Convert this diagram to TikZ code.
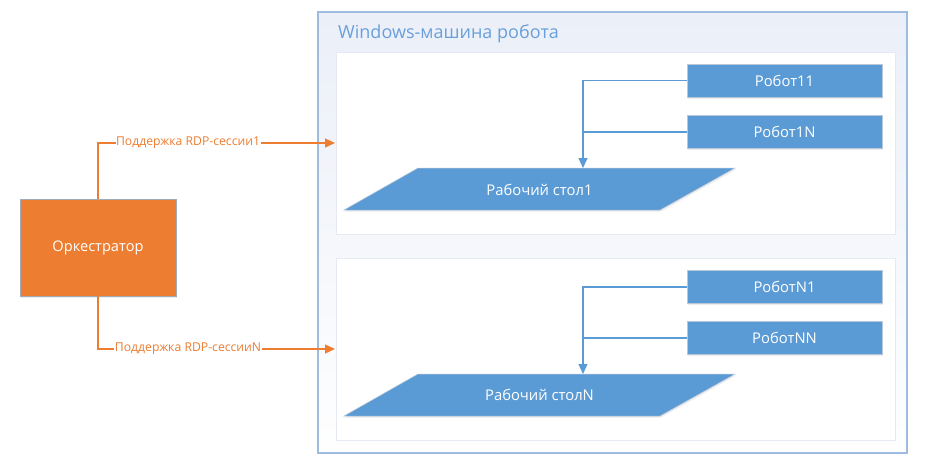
\documentclass[tikz,border=0pt]{standalone}
\usepackage{fontspec}
\setmainfont{Open Sans}
\usetikzlibrary{arrows.meta,shadows}
\definecolor{bl}{HTML}{5B9BD5}
\definecolor{bledge}{HTML}{B8C7D9}
\definecolor{org}{HTML}{ED7D31}
\definecolor{outerline}{HTML}{9DBCE0}
\definecolor{outertop}{HTML}{EBEFF8}
\definecolor{panelline}{HTML}{E6EBF3}
\definecolor{titlec}{HTML}{6A9FDB}
\tikzset{
  robot/.style={draw=bledge, line width=0.8pt, fill=bl, text=white, minimum width=195pt, minimum height=33pt, inner sep=0pt, font=\fontsize{14.8}{17}\selectfont, drop shadow={shadow xshift=1pt, shadow yshift=-1.5pt, opacity=0.15}},
  desk/.style={text=white, inner sep=0pt, font=\fontsize{14.8}{17}\selectfont},
  deskfill/.style={fill=bl, draw=bledge, line width=0.5pt, drop shadow={shadow xshift=1pt, shadow yshift=-1.5pt, opacity=0.15}},
  orch/.style={draw=bledge!60!gray, line width=0.6pt, fill=org, text=white, minimum width=156pt, minimum height=97pt, inner sep=0pt, font=\fontsize{14.6}{17}\selectfont, drop shadow={shadow xshift=1pt, shadow yshift=-1.5pt, opacity=0.15}},
  bconn/.style={draw=bl, line width=1.2pt, -{Triangle[width=9pt,length=10pt]}},
  bline/.style={draw=bl, line width=1.2pt},
  oconn/.style={draw=org, line width=1.2pt, -{Triangle[width=9pt,length=10pt]}},
  lbl/.style={fill=white, text=org, inner sep=0.5pt, font=\fontsize{12.2}{14}\selectfont},
  panel/.style={fill=white, draw=panelline, line width=0.6pt},
}
\begin{document}
\begin{tikzpicture}[x=1pt,y=-1pt]
\useasboundingbox[fill=white] (0,0) rectangle (930,467);
% outer box
\shade[top color=outertop, bottom color=white!96!outertop] (318,12) rectangle (907,453);
\draw[outerline, line width=1.2pt] (318,12) rectangle (907,453);
\node[anchor=base west, text=titlec, inner sep=0pt, font=\fontsize{18}{21}\selectfont] (title) at (338,38) {Windows-машина робота};
% panels
\draw[panel] (336,52) rectangle (895,234);
\draw[panel] (336,258) rectangle (895,440);
% panel 1
\node[robot] (r11) at (784.5,80.5) {Робот11};
\node[robot] (r1n) at (784.5,132) {Робот1N};
\path[deskfill] (344,210) -- (418,168) -- (735,168) -- (660,210) -- cycle;
\node[desk] (d1) at (539.5,190) {Рабочий стол1};
\coordinate (d1top) at (583,168);
\coordinate (j1) at (583,132);
\draw[bconn] (r11.west) -| (d1top);
\draw[bline] (r1n.west) -- (j1);
% panel 2
\node[robot] (rn1) at (784.5,287) {РоботN1};
\node[robot] (rnn) at (784.5,338) {РоботNN};
\path[deskfill] (344,416) -- (418,374) -- (735,374) -- (660,416) -- cycle;
\node[desk] (dn) at (539.5,395) {Рабочий столN};
\coordinate (dntop) at (583,374);
\coordinate (jn) at (583,338);
\draw[bconn] (rn1.west) -| (dntop);
\draw[bline] (rnn.west) -- (jn);
% orchestrator
\node[orch] (orch) at (98,247.5) {Оркестратор};
\coordinate (in1) at (335,143);
\coordinate (inn) at (335,349);
\draw[oconn] (orch.north) |- node[lbl, pos=0.69] {Поддержка RDP-сессии1} (in1);
\draw[oconn] (orch.south) |- node[lbl, pos=0.69] {Поддержка RDP-сессииN} (inn);
\end{tikzpicture}
\end{document}
